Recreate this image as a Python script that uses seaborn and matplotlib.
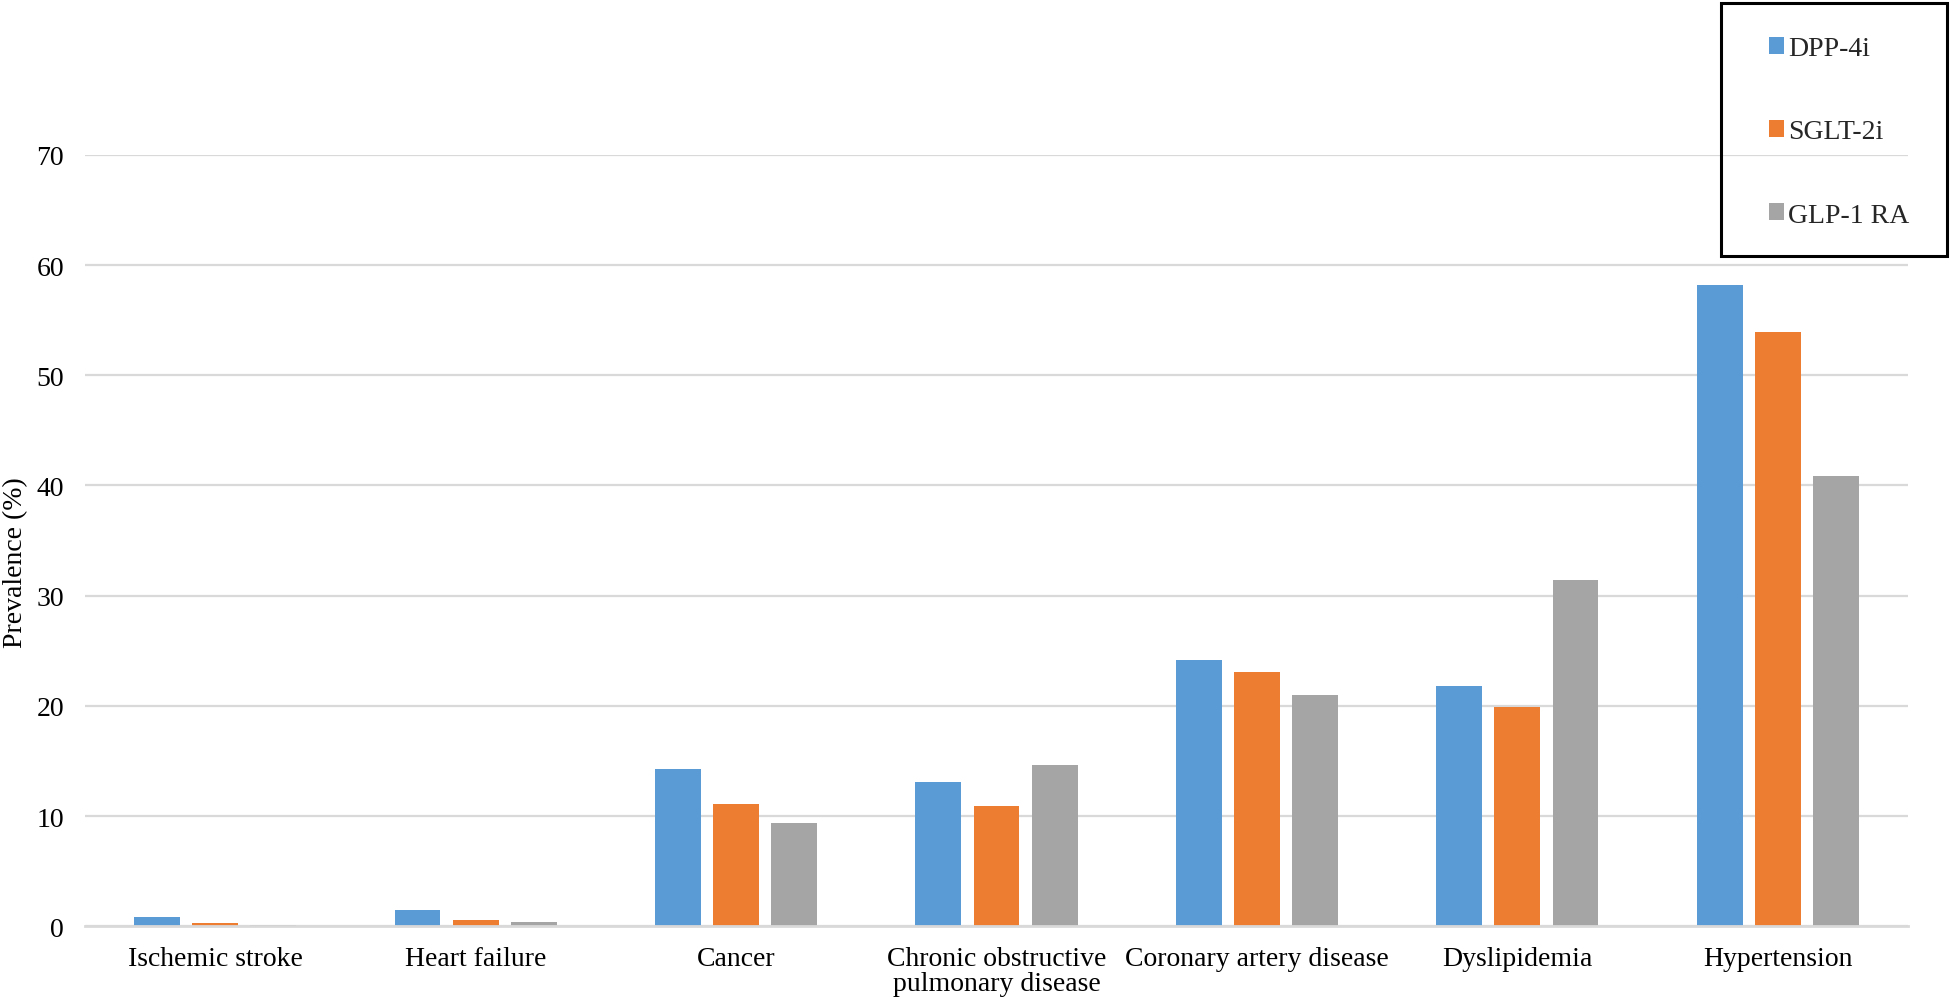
import matplotlib
matplotlib.use("Agg")
import matplotlib.pyplot as plt
from matplotlib.patches import Rectangle, Patch
import seaborn as sns
import pandas as pd

categories = ["Ischemic stroke", "Heart failure", "Cancer",
              "Chronic obstructive\npulmonary disease", "Coronary artery disease",
              "Dyslipidemia", "Hypertension"]
series_names = ["DPP-4i", "SGLT-2i", "GLP-1 RA"]
dpp4i = [0.8, 1.5, 14.3, 13.1, 24.2, 21.8, 58.2]
sglt2i = [0.3, 0.55, 11.1, 10.9, 23.1, 19.9, 53.9]
glp1ra = [0.15, 0.4, 9.4, 14.65, 21.0, 31.4, 40.9]
yticks = [0, 10, 20, 30, 40, 50, 60, 70]
colors = ["#5B9BD5", "#ED7D31", "#A5A5A5"]

rows = []
for name, vals in zip(series_names, [dpp4i, sglt2i, glp1ra]):
    for c, v in zip(categories, vals):
        rows.append({"Category": c, "Drug": name, "Value": v})
df = pd.DataFrame(rows)

sns.set_theme(style="white")
plt.rcParams["font.family"] = ["Liberation Serif", "DejaVu Serif"]

W, H = 1950, 1004
fig = plt.figure(figsize=(W / 100, H / 100), dpi=100)
ax = fig.add_axes([85 / W, 1 - 927.3 / H, (1908 - 85) / W, (927.3 - 155.8) / H])

sns.barplot(data=df, x="Category", y="Value", hue="Drug", order=categories,
            hue_order=series_names, palette=colors, width=0.67, gap=0.21,
            linewidth=0, saturation=1, legend=False, ax=ax)

ax.set_xlim(-0.5, len(categories) - 0.5)
ax.set_ylim(0, 70)
ax.set_yticks(yticks)
ax.set_yticklabels([str(t) for t in yticks])
ax.yaxis.grid(True, color="#d9d9d9", linewidth=1.6)
ax.set_axisbelow(True)
for s in ["top", "left", "right"]:
    ax.spines[s].set_visible(False)
ax.spines["bottom"].set_color("#d9d9d9")
ax.spines["bottom"].set_linewidth(2.0)
ax.tick_params(axis="both", length=0, labelsize=20, colors="black")
ax.tick_params(axis="y", pad=15)
ax.tick_params(axis="x", pad=14)
for lbl in ax.get_xticklabels():
    lbl.set_horizontalalignment("center")
    lbl.set_linespacing(1.0)
ax.set_xlabel("")
ax.set_ylabel("Prevalence (%)", fontsize=20, color="black")
ax.yaxis.set_label_coords(-0.031, 0.473)

# legend frame box
fig.patches.append(Rectangle((1721 / W, 1 - 257 / H), (1947 - 1721) / W, (257 - 4) / H,
                             transform=fig.transFigure, fill=False,
                             edgecolor="black", linewidth=2.2, zorder=5))
handles = [Patch(facecolor=c, edgecolor="none") for c in colors]
fig.legend(handles, series_names, loc="upper left",
           bbox_to_anchor=(1769 / W, 1 - 37 / H), frameon=False,
           fontsize=20, handlelength=0.55, handleheight=0.55,
           handletextpad=0.15, labelspacing=2.1, borderpad=0,
           borderaxespad=0)

fig.savefig("out.png", dpi=100)
